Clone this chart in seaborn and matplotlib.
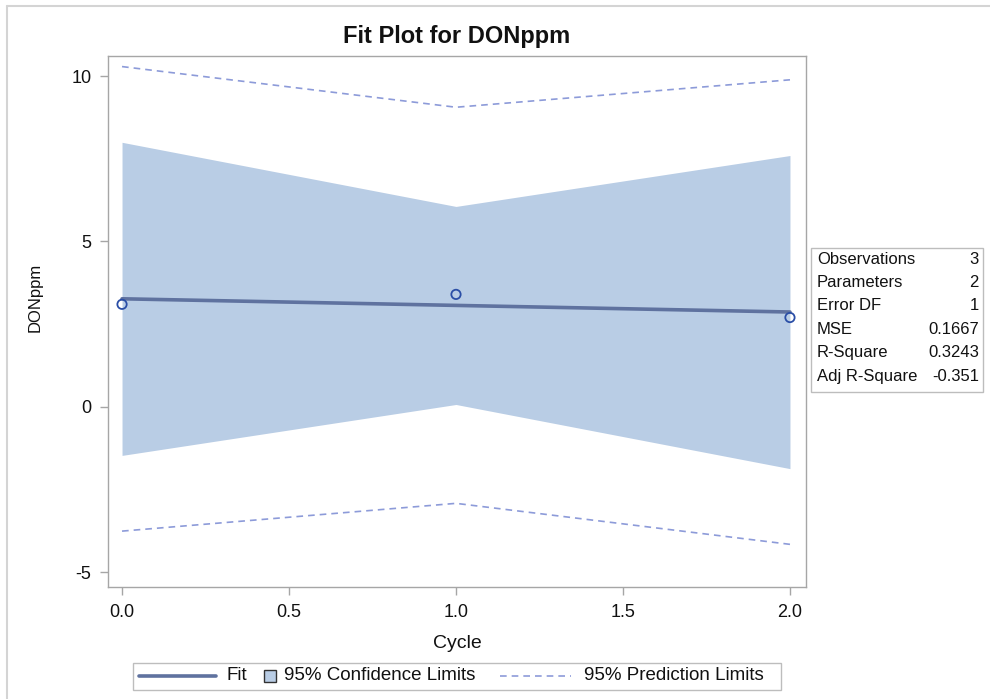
import matplotlib
matplotlib.use("Agg")
import matplotlib.pyplot as plt
import seaborn as sns
from matplotlib.lines import Line2D
from matplotlib.patches import Rectangle

# observed data
cycle = [0.0, 1.0, 2.0]
don_ppm = [3.1, 3.4, 2.7]

# fitted line and limits at each observed cycle
fit_vals = [3.267, 3.067, 2.867]
cl_lower = [-1.47, 0.07, -1.87]
cl_upper = [8.00, 6.06, 7.60]
pl_lower = [-3.76, -2.92, -4.16]
pl_upper = [10.29, 9.06, 9.89]

stat_names = ["Observations", "Parameters", "Error DF", "MSE", "R-Square", "Adj R-Square"]
stat_values = ["3", "2", "1", "0.1667", "0.3243", "-0.351"]

legend_labels = ["Fit", "95% Confidence Limits", "95% Prediction Limits"]

x_ticks = [0.0, 0.5, 1.0, 1.5, 2.0]
y_ticks = [-5, 0, 5, 10]

band_color = "#b9cde5"
fit_color = "#5f729f"
pred_color = "#8d9bd9"
marker_color = "#2a4ea6"
frame_color = "#a6a6a6"
text_color = "#111111"

W, H = 990, 699


def fx(px):
    return px / W


def fy(py):
    return 1 - py / H


sns.set_style("white")
plt.rcParams["font.family"] = ["Liberation Sans", "DejaVu Sans"]

fig = plt.figure(figsize=(9.9, 6.99), dpi=100)
ax = fig.add_axes([fx(108), fy(587), 698 / W, 531 / H])

ax.fill_between(cycle, cl_lower, cl_upper, color=band_color, linewidth=0, zorder=1)
sns.lineplot(x=cycle, y=pl_upper, ax=ax, color=pred_color, linewidth=1.2,
             linestyle=(0, (4, 3)), zorder=2)
sns.lineplot(x=cycle, y=pl_lower, ax=ax, color=pred_color, linewidth=1.2,
             linestyle=(0, (4, 3)), zorder=2)
sns.lineplot(x=cycle, y=fit_vals, ax=ax, color=fit_color, linewidth=2.6, zorder=3)
sns.scatterplot(x=cycle, y=don_ppm, ax=ax, s=45, facecolor="none",
                edgecolor=marker_color, linewidth=1.3, zorder=4)

ax.set_xlim(-0.042, 2.048)
ax.set_ylim(-5.45, 10.61)
ax.set_xticks(x_ticks)
ax.set_xticklabels([f"{t:.1f}" for t in x_ticks])
ax.set_yticks(y_ticks)
ax.set_yticklabels([str(t) for t in y_ticks])
ax.tick_params(axis="both", direction="out", length=6, width=1, color=frame_color,
               labelsize=13, labelcolor=text_color, pad=6)
ax.tick_params(axis="both", which="both", bottom=True, left=True)
for spine in ax.spines.values():
    spine.set_color(frame_color)
    spine.set_linewidth(1)

ax.set_xlabel("Cycle", fontsize=14, color=text_color, labelpad=10)
ax.set_ylabel("DONppm", fontsize=12, color=text_color)
ax.yaxis.set_label_coords(-0.093, 0.545)
fig.text(fx(457), fy(36), "Fit Plot for DONppm", ha="center", va="center",
         fontsize=17, fontweight="bold", color=text_color)

# statistics inset table
fig.add_artist(Rectangle((fx(811), fy(392)), 172 / W, 144 / H,
                         transform=fig.transFigure, facecolor="white",
                         edgecolor="#bdbdbd", linewidth=1))
for i, (name, val) in enumerate(zip(stat_names, stat_values)):
    yy = fy(259 + i * 23.5)
    fig.text(fx(817), yy, name, ha="left", va="center", fontsize=12, color=text_color)
    fig.text(fx(979), yy, val, ha="right", va="center", fontsize=12, color=text_color)

# legend, laid out by hand to mimic the SAS style
ly = fy(676)
fig.add_artist(Rectangle((fx(133), fy(690)), (781 - 133) / W, 27 / H,
                         transform=fig.transFigure, facecolor="white",
                         edgecolor="#bdbdbd", linewidth=1))
fig.add_artist(Line2D([fx(139), fx(216)], [ly, ly], transform=fig.transFigure,
                      color=fit_color, linewidth=2.6))
fig.text(fx(226), ly, legend_labels[0], ha="left", va="center", fontsize=13.5,
         color=text_color)
fig.add_artist(Rectangle((fx(264), fy(682)), 12 / W, 12 / H,
                         transform=fig.transFigure, facecolor=band_color,
                         edgecolor="#333333", linewidth=1))
fig.text(fx(284), ly, legend_labels[1], ha="left", va="center", fontsize=13.5,
         color=text_color)
fig.add_artist(Line2D([fx(500), fx(571)], [ly, ly], transform=fig.transFigure,
                      color=pred_color, linewidth=1.2, linestyle=(0, (4, 3))))
fig.text(fx(584), ly, legend_labels[2], ha="left", va="center", fontsize=13.5,
         color=text_color)

# outer screenshot frame
fig.add_artist(Line2D([fx(7), 1], [fy(6), fy(6)], transform=fig.transFigure,
                      color="#d4d4d4", linewidth=1.5))
fig.add_artist(Line2D([fx(7), fx(7)], [0, fy(6)], transform=fig.transFigure,
                      color="#d4d4d4", linewidth=1.5))

fig.savefig("out.png", dpi=100)
